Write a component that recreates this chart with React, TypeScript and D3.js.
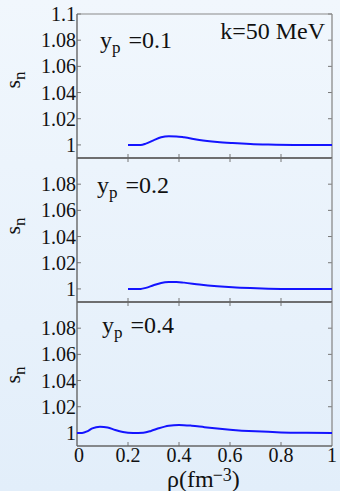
import React, { useEffect, useRef } from "react";
import * as d3 from "d3";

// rho (fm^-3) and s_n for each proton fraction
const rhoA = [0.2, 0.25, 0.27, 0.3, 0.33, 0.36, 0.39, 0.42, 0.48, 0.55, 0.61, 0.68, 0.75, 0.85, 1.0];
const snA = [1.0, 1.0, 1.001, 1.0035, 1.0058, 1.0066, 1.0065, 1.0058, 1.0037, 1.0022, 1.0014, 1.0007, 1.0003, 1.0, 1.0];

const rhoB = [0.2, 0.25, 0.27, 0.3, 0.33, 0.36, 0.39, 0.42, 0.48, 0.55, 0.61, 0.68, 0.75, 0.85, 1.0];
const snB = [1.0, 1.0, 1.0008, 1.0028, 1.0045, 1.0052, 1.0053, 1.0048, 1.0033, 1.002, 1.0012, 1.0006, 1.0002, 1.0, 1.0];

const rhoC = [0, 0.02, 0.04, 0.06, 0.09, 0.12, 0.15, 0.18, 0.22, 0.26, 0.29, 0.32, 0.36, 0.4, 0.45, 0.5, 0.55, 0.6, 0.7, 0.8, 0.9, 1.0];
const snC = [1.0, 1.0, 1.0012, 1.0035, 1.0048, 1.0042, 1.0022, 1.0007, 1.0, 1.0002, 1.0015, 1.0035, 1.0055, 1.0061, 1.0055, 1.0044, 1.0034, 1.0025, 1.0012, 1.0004, 1.0001, 1.0];

const ypLabels = ["0.1", "0.2", "0.4"];
const yTicksFirst = [1, 1.02, 1.04, 1.06, 1.08, 1.1];
const yTicksRest = [1, 1.02, 1.04, 1.06, 1.08];
const xTicks = [0, 0.2, 0.4, 0.6, 0.8, 1];

export default function App() {
  const ref = useRef<SVGSVGElement>(null);

  useEffect(() => {
    const svg = d3.select(ref.current);
    svg.selectAll("*").remove();

    const grad = svg.append("defs").append("linearGradient")
      .attr("id", "bg").attr("x1", 0).attr("y1", 0).attr("x2", 0).attr("y2", 1);
    grad.append("stop").attr("offset", "0%").attr("stop-color", "#f1f7fd");
    grad.append("stop").attr("offset", "100%").attr("stop-color", "#e2eefa");
    svg.append("rect").attr("width", 340).attr("height", 491).attr("fill", "url(#bg)");

    const left = 77, right = 332;
    const x = d3.scaleLinear().domain([0, 1]).range([left, right]);
    const tops = [14, 158, 302];
    const height = 144;

    const panels = [
      { rho: rhoA, sn: snA, ticks: yTicksFirst, labelX: 100, labelY: 48, snY: 80 },
      { rho: rhoB, sn: snB, ticks: yTicksRest, labelX: 97, labelY: 193, snY: 226 },
      { rho: rhoC, sn: snC, ticks: yTicksRest, labelX: 102, labelY: 333, snY: 375 },
    ];

    panels.forEach((p, i) => {
      const top = tops[i];
      const bottom = top + height;
      const y = d3.scaleLinear().domain([0.99, 1.1]).range([bottom, top]);
      const g = svg.append("g");

      // y ticks, inward on both sides
      p.ticks.forEach((t) => {
        g.append("line").attr("x1", left).attr("x2", left + 4)
          .attr("y1", y(t)).attr("y2", y(t)).attr("stroke", "#777").attr("stroke-width", 1);
        g.append("line").attr("x1", right).attr("x2", right - 4)
          .attr("y1", y(t)).attr("y2", y(t)).attr("stroke", "#777").attr("stroke-width", 1);
        g.append("text").attr("class", "serif").attr("x", left - 1).attr("y", y(t)).attr("dy", "0.35em")
          .attr("text-anchor", "end").attr("font-size", 20)
          .text(String(+t.toFixed(2)));
      });

      // x ticks
      xTicks.slice(1, -1).forEach((t) => {
        g.append("line").attr("x1", x(t)).attr("x2", x(t))
          .attr("y1", bottom).attr("y2", bottom - 4).attr("stroke", "#777");
        if (i > 0) {
          g.append("line").attr("x1", x(t)).attr("x2", x(t))
            .attr("y1", top).attr("y2", top + 4).attr("stroke", "#777");
        }
      });

      // frame
      g.append("line").attr("x1", left).attr("x2", right).attr("y1", top).attr("y2", top)
        .attr("stroke", i === 0 ? "#8a8a8a" : "#666").attr("stroke-width", i === 0 ? 1.2 : 1.6);
      g.append("line").attr("x1", right).attr("x2", right).attr("y1", top).attr("y2", bottom)
        .attr("stroke", "#8a8a8a").attr("stroke-width", 1.3);
      g.append("line").attr("x1", left).attr("x2", left).attr("y1", top).attr("y2", bottom)
        .attr("stroke", "#666").attr("stroke-width", 1.4);
      g.append("line").attr("x1", left).attr("x2", right).attr("y1", bottom).attr("y2", bottom)
        .attr("stroke", "#666").attr("stroke-width", 1.6);

      // curve
      const data = p.rho.map((r, k) => [r, p.sn[k]] as [number, number]);
      g.append("path").datum(data)
        .attr("d", d3.line<[number, number]>().x((d) => x(d[0])).y((d) => y(d[1])).curve(d3.curveMonotoneX))
        .attr("fill", "none").attr("stroke", "#1414ff").attr("stroke-width", 2);

      // y_p label
      const lab = g.append("text").attr("class", "serif").attr("x", p.labelX).attr("y", p.labelY)
        .attr("font-size", 24);
      lab.append("tspan").text("y");
      lab.append("tspan").attr("dy", 5).attr("font-size", 17).text("p");
      lab.append("tspan").attr("dy", -5).attr("dx", 2).text(" =" + ypLabels[i]);

      // s_n label
      const sl = g.append("text").attr("class", "serif").attr("transform", `translate(20,${p.snY}) rotate(-90)`)
        .attr("text-anchor", "middle").attr("font-size", 22);
      sl.append("tspan").text("s");
      sl.append("tspan").attr("dy", 5).attr("font-size", 17).text("n");
    });

    // k label
    svg.append("text").attr("class", "serif").attr("x", 325).attr("y", 39).attr("text-anchor", "end")
      .attr("font-size", 24).text("k=50 MeV");

    // x tick labels
    xTicks.forEach((t) => {
      svg.append("text").attr("class", "serif").attr("x", x(t) + (t === 0 ? 2 : 0)).attr("y", 462)
        .attr("text-anchor", "middle").attr("font-size", 20).text(String(t));
    });

    // x axis title
    const xt = svg.append("text").attr("class", "serif").attr("x", 167).attr("y", 487)
      .attr("font-size", 24);
    xt.append("tspan").text("ρ(fm");
    xt.append("tspan").attr("dy", -6).attr("dx", -1).attr("font-size", 18).text("−3");
    xt.append("tspan").attr("dy", 6).text(")");
  }, []);

  return (
    <div style={{ position: "absolute", left: 0, top: 0, lineHeight: 0 }}>
      <style>{`.serif { font-family: "Liberation Serif", "DejaVu Serif", serif; fill: #111; }`}</style>
      <svg ref={ref} width={340} height={491} />
    </div>
  );
}
